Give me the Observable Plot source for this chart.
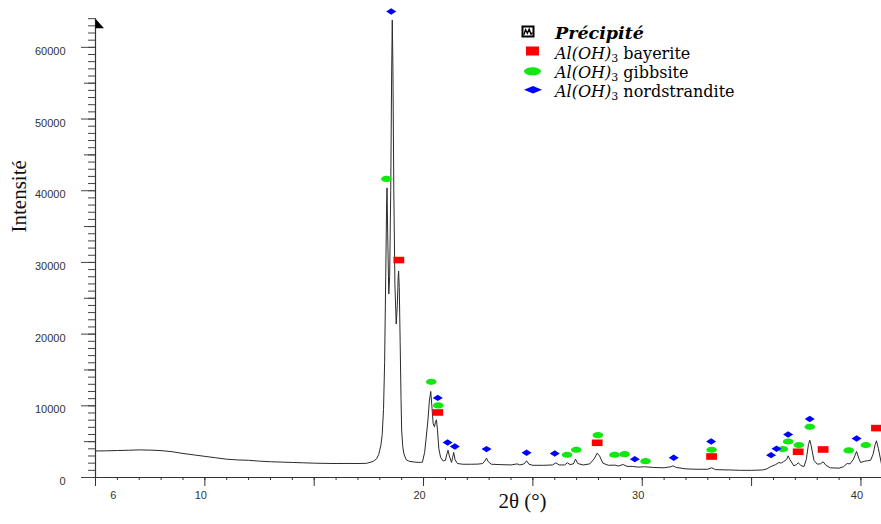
<!DOCTYPE html>
<html>
<head>
<meta charset="utf-8">
<script src="https://cdn.jsdelivr.net/npm/d3@7"></script>
<script src="https://cdn.jsdelivr.net/npm/@observablehq/plot@0.6"></script>
<style>
  body { margin: 0; background: #fff; }
  #wrap { position: relative; width: 881px; height: 524px; overflow: hidden; }
  #legend { position: absolute; left: 0; top: 0; pointer-events: none; }
</style>
</head>
<body>
<div id="wrap">
  <div id="chart"></div>
  <svg id="legend" width="881" height="524" xmlns="http://www.w3.org/2000/svg">
    <rect x="522.5" y="26.5" width="11" height="10" fill="#fff" stroke="#000" stroke-width="2"/>
    <polyline points="523.8,34.8 525.6,29.8 527.4,33.2 529.2,29.2 531,34.2 532.4,32.6" fill="none" stroke="#000" stroke-width="1.4"/>
    <text x="555" y="39" font-family="DejaVu Serif" font-weight="bold" font-style="italic" font-size="17.5">Précipité</text>

    <rect x="526" y="46.5" width="13" height="9" fill="#ff0000"/>
    <text x="555" y="59" font-family="DejaVu Serif" font-size="16"><tspan font-style="italic">Al(OH)</tspan><tspan font-size="11" dy="3">3</tspan><tspan dy="-3"> bayerite</tspan></text>

    <ellipse cx="532.5" cy="71.3" rx="8.5" ry="4" fill="#10e810"/>
    <text x="555" y="78" font-family="DejaVu Serif" font-size="16"><tspan font-style="italic">Al(OH)</tspan><tspan font-size="11" dy="3">3</tspan><tspan dy="-3"> gibbsite</tspan></text>

    <polygon points="524,89.7 533,85.9 542,89.7 533,93.5" fill="#0000ff"/>
    <text x="555" y="97" font-family="DejaVu Serif" font-size="16"><tspan font-style="italic">Al(OH)</tspan><tspan font-size="11" dy="3">3</tspan><tspan dy="-3"> nordstrandite</tspan></text>
  </svg>
</div>
<script>
// ---- XRD pattern (2θ in degrees, intensity in counts) ----
const twoTheta = [
  5.0, 5.5, 6.0, 6.5, 7.0, 7.5, 8.0, 8.5, 9.0, 9.5, 10.0, 10.5, 11.0, 11.5, 12.0, 12.5, 13.0, 13.5,
  14.0, 14.5, 15.0, 15.5, 16.0, 16.5, 17.0, 17.4, 17.7, 17.85, 17.95, 18.05, 18.11, 18.17, 18.22, 18.27,
  18.31, 18.33, 18.36, 18.41, 18.45, 18.5, 18.54, 18.57, 18.6, 18.64, 18.69, 18.75, 18.8, 18.84, 18.86,
  18.89, 18.93, 18.97, 19.0, 19.05, 19.1, 19.2, 19.35, 19.6, 19.85, 19.95, 20.05, 20.12, 20.2, 20.27,
  20.33, 20.38, 20.44, 20.5, 20.55, 20.59, 20.64, 20.7, 20.78, 20.9, 21.0, 21.07, 21.12, 21.18, 21.28,
  21.33, 21.38, 21.44, 21.55, 21.8, 22.2, 22.5, 22.7, 22.8, 22.88, 22.96, 23.1, 23.5, 24.0, 24.28, 24.4,
  24.6, 24.71, 24.82, 25.0, 25.5, 25.9, 26.05, 26.2, 26.45, 26.58, 26.7, 26.85, 26.95, 27.05, 27.3, 27.6,
  27.8, 27.94, 28.05, 28.2, 28.45, 28.75, 28.9, 29.13, 29.3, 29.54, 29.8, 30.1, 30.5, 31.0, 31.3, 31.41,
  31.55, 32.0, 32.5, 33.0, 33.17, 33.35, 34.0, 34.5, 35.0, 35.5, 35.7, 35.86, 36.1, 36.25, 36.35, 36.47,
  36.6, 36.67, 36.75, 36.93, 37.05, 37.13, 37.25, 37.39, 37.5, 37.6, 37.66, 37.72, 37.85, 38.0, 38.15,
  38.27, 38.4, 38.6, 39.0, 39.2, 39.37, 39.5, 39.65, 39.8, 39.9, 39.98, 40.15, 40.29, 40.44, 40.55, 40.65,
  40.71, 40.8, 40.94
];
const intensity = [
  3700, 3720, 3760, 3800, 3850, 3820, 3750, 3600, 3350, 3150, 2950, 2750, 2550, 2450, 2400, 2280, 2200, 2150,
  2100, 2050, 2000, 1970, 1950, 1960, 1950, 1980, 2250, 2600, 3200, 4500, 6000, 9500, 16000, 28000,
  38000, 40400, 34000, 25600, 28000, 40000, 56000, 63800, 57000, 40000, 27000, 21400, 24000, 28000, 28800,
  26500, 19000, 11000, 6500, 4300, 3300, 2500, 2250, 2150, 2100, 2150, 3500, 5500, 8000, 10800,
  12000, 10000, 7500, 7070, 7800, 8050, 6500, 4000, 2800, 2300, 2400, 3300, 3800, 3000, 2100,
  2800, 3500, 2500, 1950, 1850, 1850, 1870, 1950, 2300, 2700, 2200, 1850, 1800, 1750, 1900, 1750,
  1900, 2330, 1850, 1700, 1700, 1750, 2050, 1750, 1750, 2050, 1800, 1900, 2560, 1950, 1750, 1900,
  2600, 3400, 3000, 2000, 1700, 1730, 1600, 1810, 1550, 1550, 1450, 1500, 1400, 1350, 1500, 1630,
  1400, 1200, 1150, 1150, 1350, 1100, 1050, 1000, 1000, 1050, 1200, 1500, 1800, 2100, 2000, 2230,
  2500, 3030, 2500, 1630, 1800, 2050, 1700, 1500, 2500, 4600, 5200, 4500, 2400, 1870, 1900,
  2190, 1700, 1350, 1300, 1500, 1950, 1900, 2500, 3630, 2700, 2100, 2250, 2330, 2400, 3200, 4600,
  5120, 4000, 1870
];

// ---- Phase identification markers ----
const bayeriteTheta = [18.87, 20.65, 27.94, 33.17, 37.13, 38.27, 40.71];
const bayeriteI     = [30330, 9070, 4840, 2930, 3590, 3910, 6890];

const gibbsiteTheta = [18.30, 20.35, 20.67, 26.56, 26.98, 27.97, 28.73, 29.19, 30.15, 33.17, 36.43, 36.67, 37.16, 37.66, 39.44, 40.22];
const gibbsiteI     = [41640, 13350, 10050, 3170, 3870, 5910, 3170, 3260, 2280, 3870, 3960, 5020, 4520, 7070, 3770, 4520];

const nordTheta = [18.52, 20.65, 21.10, 21.43, 22.88, 24.71, 26.00, 29.66, 31.44, 33.15, 35.89, 36.14, 36.67, 37.66, 39.80];
const nordI     = [65000, 11100, 4880, 4330, 3960, 3450, 3350, 2560, 2750, 5020, 3120, 4000, 6000, 8150, 5440];

// ---- Axis ticks and labels ----
const xTickLabels = [6, 10, 20, 30, 40];
const xMajorTicks = [5, 10, 15, 20, 25, 30, 35, 40];
const xMinorTicks = d3.range(5, 41, 1);
const yTickLabels = [0, 10000, 20000, 30000, 40000, 50000, 60000];
const yMediumTicks = [5000, 15000, 25000, 35000, 45000, 55000];
const yMinorTicks = d3.range(0, 64001, 1000);
const yAxisTop = 64000;
const xTitle = "2θ (°)";
const yTitle = "Intensité";

const pattern = twoTheta.map((t, i) => ({t, I: intensity[i]}));
const bayerite = bayeriteTheta.map((t, i) => ({t, I: bayeriteI[i]}));
const gibbsite = gibbsiteTheta.map((t, i) => ({t, I: gibbsiteI[i]}));
const nord = nordTheta.map((t, i) => ({t, I: nordI[i]}));

// custom symbols
const rectSym = {draw(c) { const w = 5.4, h = 3.3; c.moveTo(-w, -h); c.lineTo(w, -h); c.lineTo(w, h); c.lineTo(-w, h); c.closePath(); }};
const ellipseSym = {draw(c) {
  const rx = 5.3, ry = 3.1, k = 0.5523;
  c.moveTo(rx, 0);
  c.bezierCurveTo(rx, ry * k, rx * k, ry, 0, ry);
  c.bezierCurveTo(-rx * k, ry, -rx, ry * k, -rx, 0);
  c.bezierCurveTo(-rx, -ry * k, -rx * k, -ry, 0, -ry);
  c.bezierCurveTo(rx * k, -ry, rx, -ry * k, rx, 0);
  c.closePath();
}};
const diamondSym = {draw(c) { const w = 5, h = 3.2; c.moveTo(-w, 0); c.lineTo(0, -h); c.lineTo(w, 0); c.lineTo(0, h); c.closePath(); }};
const arrowSym = {draw(c) { c.moveTo(0, 0); c.lineTo(8.5, 9.5); c.lineTo(0, 9.5); c.closePath(); }};

const axisColor = "#333";

const chart = Plot.plot({
  width: 881,
  height: 524,
  marginLeft: 95,
  marginRight: 0,
  marginTop: 11,
  marginBottom: 47,
  x: {domain: [5, 40.94]},
  y: {domain: [0, 65000]},
  style: {fontFamily: "'Liberation Sans', Arial, sans-serif", fontSize: "11px", color: "#333", background: "#fff"},
  marks: [
    // y axis ticks
    Plot.axisY({ticks: yMinorTicks, tickSize: 7, fill: "none", stroke: "#444", label: null}),
    Plot.axisY({ticks: yMediumTicks, tickSize: 11, fill: "none", stroke: "#444", label: null}),
    Plot.axisY({ticks: yTickLabels, tickSize: 14, fill: "none", stroke: "#444", label: null}),
    Plot.axisY({ticks: yTickLabels, tickSize: 0, tickPadding: 30, dy: 4, tickFormat: d => String(d), fill: "#333", label: null}),
    // x axis ticks
    Plot.axisX({ticks: xMinorTicks, tickSize: 3, fill: "none", stroke: axisColor, label: null}),
    Plot.axisX({ticks: xMajorTicks, tickSize: 9, fill: "none", stroke: axisColor, label: null}),
    Plot.axisX({ticks: xTickLabels, tickSize: 0, tickPadding: 14, dx: -4, tickFormat: d => String(d), fill: "#333", label: null}),
    // axis lines
    Plot.ruleY([0], {stroke: axisColor, strokeWidth: 1}),
    Plot.ruleX([5], {y1: 0, y2: yAxisTop, stroke: axisColor, strokeWidth: 1.2}),
    Plot.dot([{x: 5, y: yAxisTop}], {x: "x", y: "y", symbol: arrowSym, r: 5, fill: "#000", stroke: "none"}),
    // pattern
    Plot.line(pattern, {x: "t", y: "I", stroke: "#2a2a2a", strokeWidth: 1}),
    // markers
    Plot.dot(bayerite, {x: "t", y: "I", symbol: rectSym, r: 4, fill: "#ff0000", stroke: "none"}),
    Plot.dot(gibbsite, {x: "t", y: "I", symbol: ellipseSym, r: 4, fill: "#10e810", stroke: "none"}),
    Plot.dot(nord, {x: "t", y: "I", symbol: diamondSym, r: 4, fill: "#0000ff", stroke: "none"}),
    // axis titles
    Plot.text([yTitle], {text: d => d, frameAnchor: "left", dx: -76, dy: -12, rotate: -90, fontFamily: "'Liberation Serif', serif", fontSize: 21, fill: "#111"}),
    Plot.text([xTitle], {text: d => d, frameAnchor: "bottom", dx: 34, dy: 30, fontFamily: "'Liberation Serif', serif", fontSize: 21, fill: "#111"})
  ]
});
document.getElementById("chart").appendChild(chart);
</script>
</body>
</html>
